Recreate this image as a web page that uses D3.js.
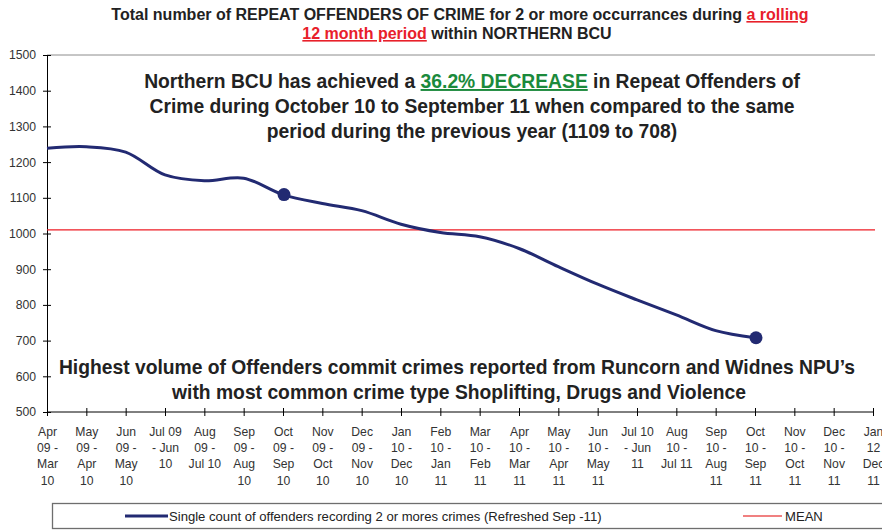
<!DOCTYPE html>
<html><head><meta charset="utf-8">
<script src="https://cdn.jsdelivr.net/npm/d3@7"></script>
<style>
html,body{margin:0;padding:0;background:#fff;}
svg{display:block;font-family:"Liberation Sans",Arial,sans-serif;}
</style></head>
<body><svg id="c" width="882" height="530"></svg>
<script>
const categories = ["Apr\n09 -\nMar\n10","May\n09 -\nApr\n10","Jun\n09 -\nMay\n10","Jul 09\n- Jun\n10","Aug\n09 -\nJul 10","Sep\n09 -\nAug\n10","Oct\n09 -\nSep\n10","Nov\n09 -\nOct\n10","Dec\n09 -\nNov\n10","Jan\n10 -\nDec\n10","Feb\n10 -\nJan\n11","Mar\n10 -\nFeb\n11","Apr\n10 -\nMar\n11","May\n10 -\nApr\n11","Jun\n10 -\nMay\n11","Jul 10\n- Jun\n11","Aug\n10 -\nJul 11","Sep\n10 -\nAug\n11","Oct\n10 -\nSep\n11","Nov\n10 -\nOct\n11","Dec\n10 -\nNov\n11","Jan\n12\nDec\n11"];
const offenders = [1239,1243,1228,1164,1148,1155,1109,1084,1064,1026,1003,991,958,907,858,814,772,728,708];
const markerIdx = [6,18];
const meanValue = 1010;
const yTicks = [500,600,700,800,900,1000,1100,1200,1300,1400,1500];
const seriesName = "Single count of offenders recording 2 or mores crimes (Refreshed Sep -11)";
const meanName = "MEAN";

const svg = d3.select("#c");
const x = d3.scalePoint().domain(d3.range(categories.length)).range([47,873]);
const y = d3.scaleLinear().domain([500,1500]).range([412,55]);

// title
const t1 = svg.append("text").attr("x",460).attr("y",20).attr("text-anchor","middle")
  .style("font-weight","bold").style("font-size","16px").attr("fill","#222");
t1.append("tspan").text("Total number of REPEAT OFFENDERS OF CRIME for 2 or more occurrances during ");
t1.append("tspan").attr("fill","#e8202a").attr("text-decoration","underline").text("a rolling");
const t2 = svg.append("text").attr("x",457).attr("y",39).attr("text-anchor","middle")
  .style("font-weight","bold").style("font-size","16px").attr("fill","#222");
t2.append("tspan").attr("fill","#e8202a").attr("text-decoration","underline").text("12 month period");
t2.append("tspan").text(" within NORTHERN BCU");

// top gridline
svg.append("line").attr("x1",47).attr("x2",875).attr("y1",y(1500)).attr("y2",y(1500)).attr("stroke","#8c8c8c").attr("stroke-width",1);

// y axis
const ya = svg.append("g").attr("transform","translate(47,0)")
  .call(d3.axisLeft(y).tickValues(yTicks).tickFormat(d3.format("d")).tickSize(4).tickPadding(7));
ya.select(".domain").attr("stroke","#000");
ya.selectAll(".tick line").attr("x1",4).attr("x2",-4).attr("stroke","#000");
ya.selectAll(".tick text").style("font-size","12.2px").attr("fill","#333").style("font-family","'Liberation Sans',Arial,sans-serif");

// x axis
const xa = svg.append("g").attr("transform","translate(0,412)")
  .call(d3.axisBottom(x).tickSize(4).tickFormat(""));
xa.select(".domain").attr("stroke","#000").attr("d","M47,0H873");
xa.selectAll(".tick line").attr("y1",-4).attr("y2",4).attr("stroke","#000");
xa.selectAll(".tick").each(function(d){
  const t = d3.select(this).append("text").attr("text-anchor","middle").attr("fill","#333")
    .style("font-size","12.2px").style("font-family","'Liberation Sans',Arial,sans-serif");
  categories[d].split("\n").forEach((s,i)=>{
    t.append("tspan").attr("x",0).attr("y",23.5+i*16.4).text(s);
  });
});

// mean line
svg.append("line").attr("x1",47).attr("x2",875).attr("y1",y(meanValue)).attr("y2",y(meanValue)).attr("stroke","#ee1c25").attr("stroke-width",1.2);

// series line
const line = d3.line().x((d,i)=>x(i)).y(d=>y(d)).curve(d3.curveCatmullRom.alpha(0.5));
svg.append("path").datum(offenders).attr("d",line).attr("fill","none").attr("stroke","#222a72").attr("stroke-width",3);
svg.selectAll("circle.m").data(markerIdx).enter().append("circle")
  .attr("cx",i=>x(i)+1).attr("cy",i=>y(offenders[i])).attr("r",6.5).attr("fill","#222a72");

// annotations
const ann = svg.append("g").style("font-weight","bold").style("font-size","19.3px").attr("fill","#222").attr("text-anchor","middle");
const a1 = ann.append("text").attr("x",472).attr("y",88);
a1.append("tspan").text("Northern BCU has achieved a ");
a1.append("tspan").attr("fill","#1b8a3c").attr("text-decoration","underline").text("36.2% DECREASE");
a1.append("tspan").text(" in Repeat Offenders of");
ann.append("text").attr("x",472).attr("y",113).text("Crime during October 10 to September 11 when compared to the same");
ann.append("text").attr("x",472).attr("y",138).text("period during the previous year (1109 to 708)");
ann.append("text").attr("x",457).attr("y",374).text("Highest volume of Offenders commit crimes reported from Runcorn and Widnes NPU\u2019s");
ann.append("text").attr("x",459).attr("y",399).text("with most common crime type Shoplifting, Drugs and Violence");

// legend
svg.append("rect").attr("x",52.5).attr("y",503.5).attr("width",840).attr("height",25).attr("fill","none").attr("stroke","#6e6e6e").attr("stroke-width",1.3);
svg.append("line").attr("x1",125).attr("x2",168).attr("y1",516).attr("y2",516).attr("stroke","#222a72").attr("stroke-width",3);
svg.append("text").attr("x",169).attr("y",520.5).style("font-size","13.1px").attr("fill","#222").text(seriesName);
svg.append("line").attr("x1",743).attr("x2",782).attr("y1",516).attr("y2",516).attr("stroke","#f08080").attr("stroke-width",2);
svg.append("text").attr("x",785).attr("y",520.5).style("font-size","13.1px").attr("fill","#222").text(meanName);
</script></body></html>
